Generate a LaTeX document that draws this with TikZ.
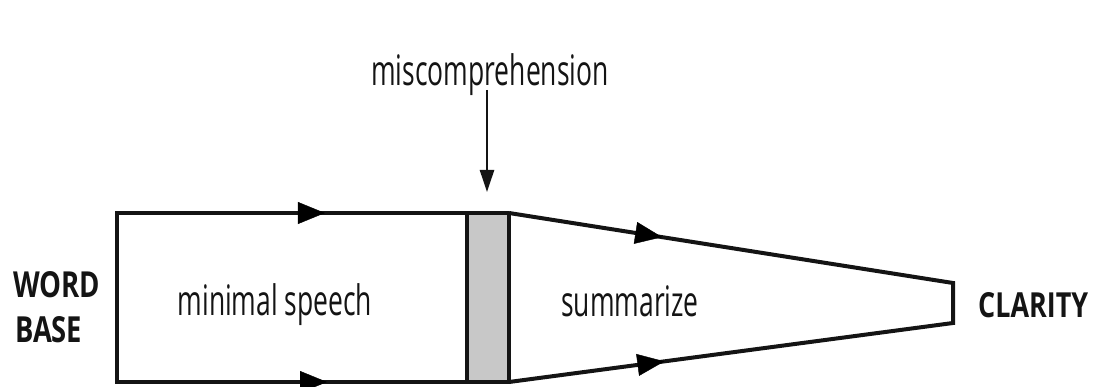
\documentclass[tikz,border=0pt]{standalone}
\usepackage{fontspec}
\usepackage{graphicx}
\setmainfont{Open Sans}[FakeStretch=0.63]
\newfontfamily\boldfam{Open Sans}
\usetikzlibrary{arrows.meta,decorations.markings}
\definecolor{barfill}{RGB}{200,200,200}
\definecolor{ink}{RGB}{20,20,20}
\begin{document}
\begin{tikzpicture}[x=1pt,y=-1pt,
  edge/.style={line width=4pt,draw=ink,line join=miter},
  midarrow/.style={postaction={decorate},decoration={markings,
     mark=at position #1 with {\arrow{Triangle[length=27pt,width=22pt]}}}},
  regtext/.style={font=\fontsize{42}{48}\selectfont,text=ink,inner sep=0pt},
  boldtext/.style={font=\boldfam\bfseries\fontsize{36}{40}\selectfont,text=ink,inner sep=0pt},
  pointer/.style={line width=2.5pt,draw=ink,-{Triangle[length=22pt,width=14pt]}}
]
\useasboundingbox (0,0) rectangle (1093,387);

% corner coordinates
\coordinate (tl) at (117,213);
\coordinate (bl) at (117,382);
\coordinate (gtl) at (467,213);
\coordinate (gbl) at (467,382);
\coordinate (gtr) at (509,213);
\coordinate (gbr) at (509,382);
\coordinate (ftop) at (953,283);
\coordinate (fbot) at (953,323);

% gray bar
\fill[barfill] (gtl) rectangle (gbr);

% box
\draw[edge] (gtl) -- (tl) -- (bl) -- (gbl);
\draw[edge] (gtl) -- (gtr);
\draw[edge] (gbl) -- (gbr);
\draw[edge] (gtl) -- (gbl);
\draw[edge] (gtr) -- (gbr);
\path[midarrow=0.594] (tl) -- (gtl);
\path[midarrow=0.60] (bl) -- (gbl);

% funnel
\draw[edge] (gtr) -- (ftop) -- (fbot) -- (gbr);
\path[midarrow=0.345] (gtr) -- (ftop);
\path[midarrow=0.35] (gbr) -- (fbot);

% labels
\node[regtext,anchor=base] (mis) at (490,86) {miscomprehension};
\coordinate (mstart) at (487,90);
\coordinate (mtip) at (487,192);
\draw[pointer] (mstart) -- (mtip);

\node[regtext,anchor=base] (ms) at (275,316) {minimal speech};
\node[regtext,anchor=base] (sum) at (630,317) {summarize};
\node[boldtext,anchor=base west] (word) at (13,298) {\resizebox{87pt}{26pt}{WORD}};
\node[boldtext,anchor=base west] (base) at (15,343) {\resizebox{67pt}{26pt}{BASE}};
\node[boldtext,anchor=base west] (cl) at (978,318) {\resizebox{110pt}{25pt}{CLARITY}};
\end{tikzpicture}
\end{document}
